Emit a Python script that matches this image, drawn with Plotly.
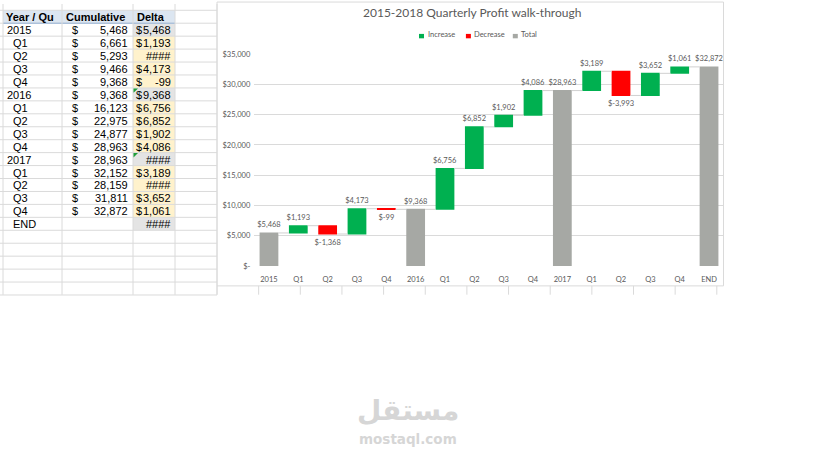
import plotly.graph_objects as go

# ---------------- data ----------------
labels = ["2015", "Q1", "Q2", "Q3", "Q4", "2016", "Q1", "Q2", "Q3", "Q4",
          "2017", "Q1", "Q2", "Q3", "Q4", "END"]
cumulative = [5468, 6661, 5293, 9466, 9368, 9368, 16123, 22975, 24877, 28963,
              28963, 32152, 28159, 31811, 32872, None]
delta = [5468, 1193, -1368, 4173, -99, 9368, 6756, 6852, 1902, 4086,
         28963, 3189, -3993, 3652, 1061, 32872]
measure = ["absolute", "relative", "relative", "relative", "relative", "total",
           "relative", "relative", "relative", "relative", "total",
           "relative", "relative", "relative", "relative", "total"]
delta_cells = ["$5,468", "$ 1,193", "####", "$ 4,173", "$   -99", "$9,368",
               "$6,756", "$6,852", "$ 1,902", "$4,086", "####", "$ 3,189",
               "####", "$3,652", "$ 1,061", "####"]
header = ["Year / Qu", "Cumulative", "Delta"]
legend_items = [("Increase", "#00B050"), ("Decrease", "#FF0000"), ("Total", "#A6A8A4")]
y_ticks = [0, 5000, 10000, 15000, 20000, 25000, 30000, 35000]
title = "2015-2018 Quarterly Profit walk-through"

W, H = 819, 460
def X(px):
    return px / W
def Y(py):
    return 1 - py / H

GRID = "#DADADA"
TXT = "#595959"
CHART_FONT = "Lato"
SHEET_FONT = "Liberation Sans, Arial"

# ---------------- waterfall chart ----------------
xs = list(range(len(labels)))
fig = go.Figure()
fig.add_trace(go.Waterfall(
    x=xs, y=[0 if m == "total" else v for v, m in zip(delta, measure)],
    measure=measure,
    text=[f"${v:,}" for v in delta],
    textposition="outside",
    textfont=dict(size=7.5, color=TXT, family=CHART_FONT),
    constraintext="none", cliponaxis=False,
    increasing=dict(marker=dict(color="#00B050")),
    decreasing=dict(marker=dict(color="#FF0000")),
    totals=dict(marker=dict(color="#A6A8A4")),
    connector=dict(line=dict(color="#D0D0D0", width=1)),
    showlegend=False, hoverinfo="skip",
))

fig.update_layout(
    width=W, height=H, margin=dict(l=0, r=0, t=0, b=0),
    paper_bgcolor="white", plot_bgcolor="white",
    waterfallgap=0.36,
    xaxis=dict(domain=[X(254.3), X(723.7)], range=[-0.5, len(labels) - 0.5],
               tickmode="array", tickvals=xs, ticktext=labels,
               tickfont=dict(size=7.5, color=TXT, family=CHART_FONT),
               ticklabelstandoff=7,
               showgrid=False, zeroline=False, showline=False, ticks=""),
    yaxis=dict(domain=[Y(267.3), Y(51)], range=[0, 35000],
               tickmode="array", tickvals=y_ticks,
               ticktext=["$-" if v == 0 else f"${v:,}" for v in y_ticks],
               tickfont=dict(size=7.5, color=TXT, family=CHART_FONT),
               ticklabelstandoff=3,
               showgrid=True, gridcolor=GRID, gridwidth=1,
               zeroline=False, showline=False, ticks=""),
    showlegend=False,
)

shapes = []
annotations = []

# chart border + title + legend
shapes.append(dict(type="rect", xref="paper", yref="paper", x0=X(217), x1=X(723.5),
                   y0=Y(287.5), y1=Y(-2), line=dict(color=GRID, width=1), layer="below"))
annotations.append(dict(text=title, x=X(472), y=Y(9), xref="paper", yref="paper",
                        showarrow=False, xanchor="center", yanchor="middle",
                        font=dict(size=12, color=TXT, family=CHART_FONT)))
lx = 419
for name, col in legend_items:
    shapes.append(dict(type="rect", xref="paper", yref="paper", x0=X(lx), x1=X(lx + 5),
                       y0=Y(35), y1=Y(30.5), line=dict(width=0), fillcolor=col))
    annotations.append(dict(text=name, x=X(lx + 6.5), y=Y(31.5), xref="paper", yref="paper",
                            showarrow=False, xanchor="left", yanchor="middle",
                            font=dict(size=7.5, color=TXT, family=CHART_FONT)))
    lx += 6.5 + 1.2 + len(name) * 3.9 + 8

# cells below chart
for k in range(13):
    cx = 217 + 41.65 * k
    if cx > 724:
        break
    shapes.append(dict(type="line", xref="paper", yref="paper", x0=X(cx), x1=X(cx),
                       y0=Y(296.5), y1=Y(287.5), line=dict(color=GRID, width=1)))

# ---------------- spreadsheet ----------------
row_h = 13.2
head_top = 6.4
head_bot = head_top + row_h
col_x = [3, 62, 133, 175, 217]
n_rows_total = 21

shapes.append(dict(type="rect", xref="paper", yref="paper", x0=X(3), x1=X(175),
                   y0=Y(head_bot), y1=Y(head_top), fillcolor="#DCE6F1",
                   line=dict(width=0), layer="below"))
for i, d in enumerate(delta_cells):
    top = head_bot + i * row_h
    fill = "#E4E4E4" if labels[i][0] != "Q" else "#FFF2CC"
    shapes.append(dict(type="rect", xref="paper", yref="paper", x0=X(133), x1=X(175),
                       y0=Y(top + row_h), y1=Y(top), fillcolor=fill,
                       line=dict(width=0), layer="below"))

# grid lines
for r in range(n_rows_total + 2):
    yy = head_top + r * row_h
    if yy > 297:
        break
    shapes.append(dict(type="line", xref="paper", yref="paper", x0=0, x1=X(217),
                       y0=Y(yy), y1=Y(yy), line=dict(color=GRID, width=1)))
shapes.append(dict(type="line", xref="paper", yref="paper", x0=X(3), x1=X(175),
                   y0=Y(head_bot), y1=Y(head_bot), line=dict(color="#95B3D7", width=1)))
for cx in col_x:
    shapes.append(dict(type="line", xref="paper", yref="paper", x0=X(cx), x1=X(cx),
                       y0=Y(296.5), y1=1, line=dict(color=GRID, width=1)))

# header text
hx = [6, 66, 136.5]
for t, x0 in zip(header, hx):
    annotations.append(dict(text=f"<b>{t}</b>", x=X(x0 - 2), y=Y(head_top + row_h / 2 + 0.5),
                            xref="paper", yref="paper", showarrow=False,
                            xanchor="left", yanchor="middle",
                            font=dict(size=11, color="black", family=SHEET_FONT)))

def cell_text(t, x, yc, anchor):
    annotations.append(dict(text=t, x=X(x), y=Y(yc), xref="paper", yref="paper",
                            showarrow=False, xanchor=anchor, yanchor="middle",
                            font=dict(size=11, color="black", family=SHEET_FONT)))

for i, lab in enumerate(labels):
    yc = head_bot + i * row_h + row_h / 2 + 0.5
    cell_text(lab, (4.5 if lab[0].isdigit() else 10.5), yc, "left")
    if cumulative[i] is not None:
        cell_text("$", 69.5, yc, "left")
        cell_text(f"{cumulative[i]:,}", 130, yc, "right")
    d = delta_cells[i]
    if d.startswith("$"):
        cell_text("$", 133.5, yc, "left")
        cell_text(d[1:].strip(), 173, yc, "right")
    else:
        cell_text(d, 173, yc, "right")
    if labels[i] in ("2016", "2017"):
        top = head_bot + i * row_h
        shapes.append(dict(type="path", xref="paper", yref="paper",
                           path=f"M {X(133.5)},{Y(top + 0.5)} L {X(138)},{Y(top + 0.5)} L {X(133.5)},{Y(top + 5)} Z",
                           fillcolor="#1F9E3A", line=dict(width=0)))

# watermark
annotations.append(dict(text="<b>مستقل</b>", x=X(408), y=Y(415), xref="paper", yref="paper",
                        showarrow=False, xanchor="center", yanchor="middle",
                        font=dict(size=28, color="#D6D6D6", family="DejaVu Sans")))
annotations.append(dict(text="<b>mostaql.com</b>", x=X(408), y=Y(444), xref="paper", yref="paper",
                        showarrow=False, xanchor="center", yanchor="middle",
                        font=dict(size=13.5, color="#D6D6D6", family="DejaVu Sans")))

fig.update_layout(shapes=shapes, annotations=annotations)
fig.write_html("out.html")
